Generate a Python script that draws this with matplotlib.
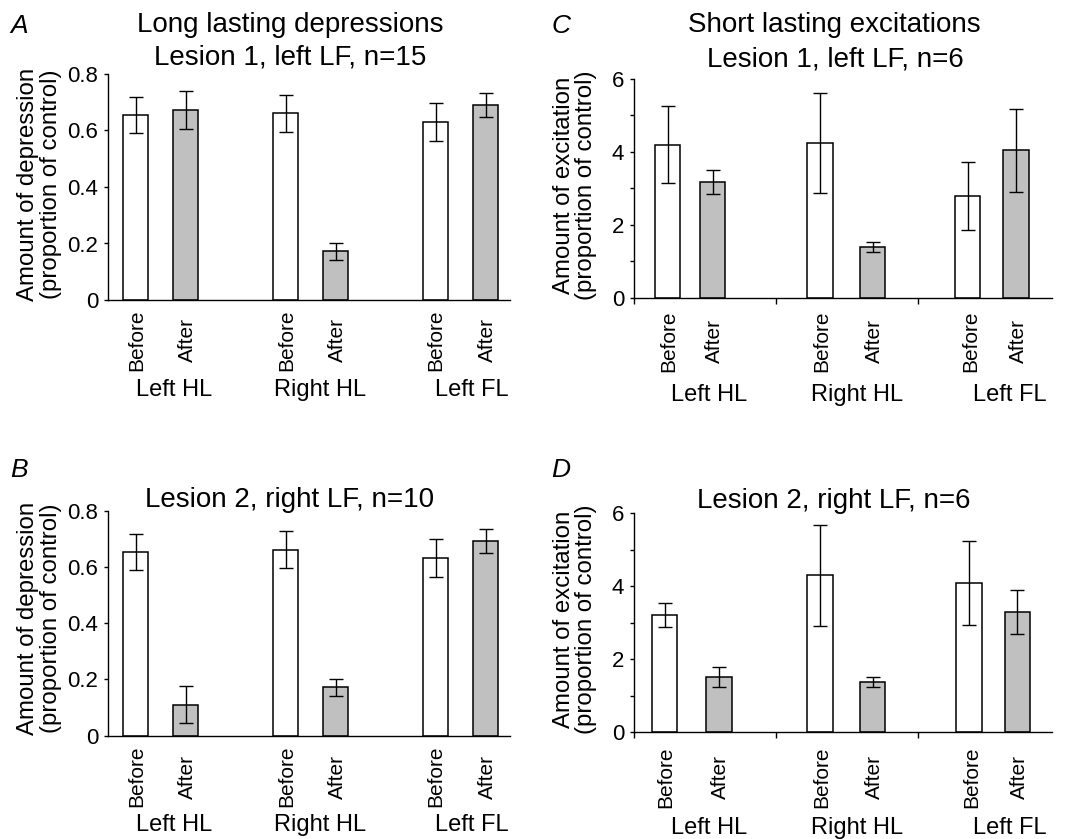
import matplotlib
matplotlib.use('Agg')
import matplotlib.pyplot as plt
from matplotlib.ticker import MultipleLocator

plt.rcParams['font.family'] = ['Liberation Sans', 'DejaVu Sans']

# ---- data -------------------------------------------------------------
conds = ['Before', 'After']
limbs = ['Left HL', 'Right HL', 'Left FL']

# long lasting depressions (proportion of control)
dep_l1 = [0.655, 0.674, 0.661, 0.172, 0.631, 0.691]
dep_l1_err = [0.063, 0.067, 0.066, 0.030, 0.067, 0.043]
dep_l2 = [0.654, 0.110, 0.661, 0.172, 0.631, 0.691]
dep_l2_err = [0.064, 0.065, 0.066, 0.030, 0.067, 0.043]

# short lasting excitations (proportion of control)
exc_l1 = [4.20, 3.18, 4.24, 1.39, 2.80, 4.04]
exc_l1_err = [1.05, 0.33, 1.38, 0.145, 0.93, 1.15]
exc_l2 = [3.22, 1.52, 4.30, 1.38, 4.09, 3.29]
exc_l2_err = [0.33, 0.28, 1.38, 0.14, 1.16, 0.61]

W, H = 1065, 839
fig = plt.figure(figsize=(W / 100, H / 100), dpi=100)

def fx(px):
    return px / W

def fy(py):
    return 1 - py / H

def make_ax(l, r, t, b):
    return fig.add_axes([fx(l), fy(b), fx(r - l), (b - t) / H])

colors = ['white', '#c0c0c0'] * 3

def draw(ax, xs, vals, errs, width):
    ax.bar(xs, vals, width=width, color=colors, edgecolor='black', linewidth=1.1, zorder=2)
    ax.errorbar(xs, vals, yerr=errs, fmt='none', ecolor='black', elinewidth=1.0,
                capsize=4.7, capthick=1.0, zorder=3)
    for s in ['top', 'right']:
        ax.spines[s].set_visible(False)
    for s in ['left', 'bottom']:
        ax.spines[s].set_linewidth(1.0)
    ax.tick_params(axis='y', direction='out', length=3, width=1.0, labelsize=16, pad=4)
    ax.tick_params(axis='y', which='minor', direction='out', length=3, width=1.0)

# ---- depression panels (A, B) ---------------------------------------
dep_x = [0, 1, 3, 4, 6, 7]
for (vals, errs, top, bot) in [(dep_l1, dep_l1_err, 74, 300), (dep_l2, dep_l2_err, 510.7, 735.7)]:
    ax = make_ax(108, 510, top, bot)
    draw(ax, dep_x, vals, errs, 0.5)
    ax.set_xlim(-0.55, 7.49)
    ax.set_ylim(0, 0.8)
    ax.set_yticks([0, 0.2, 0.4, 0.6, 0.8])
    ax.set_yticklabels(['0', '0.2', '0.4', '0.6', '0.8'])
    ax.set_xticks([])

# ---- excitation panels (C, D) ---------------------------------------
exc_x_c = [0.236, 0.553, 1.31, 1.68, 2.35, 2.69]
exc_x_d = [0.215, 0.599, 1.31, 1.68, 2.36, 2.70]
for (vals, errs, xs, top, bot) in [(exc_l1, exc_l1_err, exc_x_c, 79, 297.7),
                                    (exc_l2, exc_l2_err, exc_x_d, 513.3, 732.3)]:
    ax = make_ax(634, 1052, top, bot)
    draw(ax, xs, vals, errs, 0.18)
    ax.set_xlim(0, 2.944)
    ax.set_ylim(0, 6)
    ax.set_yticks([0, 2, 4, 6])
    ax.yaxis.set_minor_locator(MultipleLocator(1))
    ax.set_xticks([0, 1, 2])
    ax.set_xticklabels([])
    ax.tick_params(axis='x', direction='out', length=4, width=1.0)

# ---- texts -------------------------------------------------------------
big = 20
fig.text(fx(290), fy(32), 'Long lasting depressions', ha='center', va='baseline', fontsize=big)
fig.text(fx(290), fy(65), 'Lesion 1, left LF, n=15', ha='center', va='baseline', fontsize=big)
fig.text(fx(834), fy(32), 'Short lasting excitations', ha='center', va='baseline', fontsize=big)
fig.text(fx(835), fy(66), 'Lesion 1, left LF, n=6', ha='center', va='baseline', fontsize=big)
fig.text(fx(290), fy(507), 'Lesion 2, right LF, n=10', ha='center', va='baseline', fontsize=big)
fig.text(fx(834), fy(508), 'Lesion 2, right LF, n=6', ha='center', va='baseline', fontsize=big)

for letter, x, y in [('A', 19, 33), ('C', 561, 33), ('B', 19, 477), ('D', 561, 477)]:
    fig.text(fx(x), fy(y), letter, ha='center', va='baseline', fontsize=19, style='italic')

for txt, x, y in [('Amount of depression\n(proportion of control)', 39.5, 184),
                  ('Amount of depression\n(proportion of control)', 39.5, 618),
                  ('Amount of excitation\n(proportion of control)', 575, 185),
                  ('Amount of excitation\n(proportion of control)', 575, 619)]:
    fig.text(fx(x), fy(y), txt, ha='center', va='center', rotation=90,
             fontsize=17.3, multialignment='center', linespacing=1.05)

# condition labels under bars
dep_px = [135.5, 186, 285.5, 335.5, 434.5, 485.5]
exc_px_c = [667.5, 712.5, 820, 873, 969, 1017]
exc_px_d = [664.5, 719, 820, 873, 970.7, 1018]
for xs, yc in [(dep_px, 340), (dep_px, 776.7), (exc_px_c, 341), (exc_px_d, 777)]:
    for i, x in enumerate(xs):
        fig.text(fx(x + 1.5), fy(yc), conds[i % 2], ha='center', va='center',
                 rotation=90, fontsize=15)

# limb group labels
for xs, y in [([174, 320, 472], 390), ([174, 320, 472], 825),
              ([709, 857, 1010], 395), ([709, 857, 1010], 828)]:
    for lab, x in zip(limbs, xs):
        fig.text(fx(x), fy(y), lab, ha='center', va='center', fontsize=17)

fig.savefig('out.png', dpi=100)
